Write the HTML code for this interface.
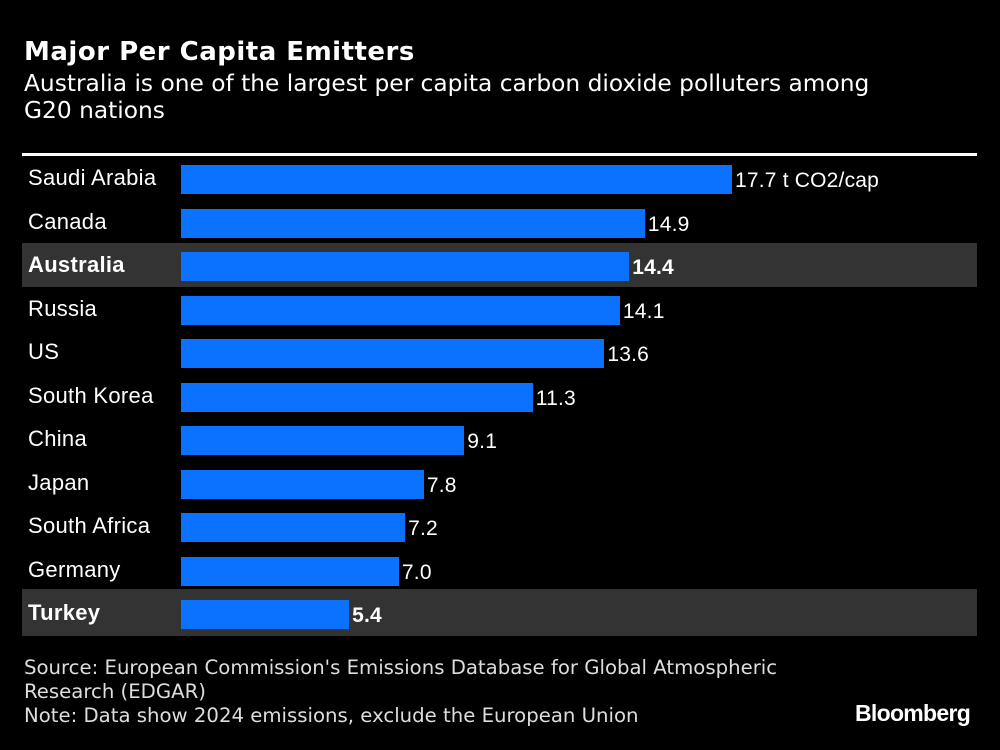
<!DOCTYPE html>
<html><head><meta charset="utf-8"><style>
body{margin:0;width:1000px;height:750px;background:#000;position:relative;overflow:hidden;color:#fff}
.t{position:absolute;font-family:"DejaVu Sans",sans-serif;white-space:nowrap}
.l{position:absolute;font-family:"Liberation Sans",sans-serif;font-size:22px;left:28px;white-space:nowrap;letter-spacing:0.3px}
.b{position:absolute;left:181px;height:29px;background:#0a72ff}
.v{position:absolute;font-family:"Liberation Sans",sans-serif;font-size:21px;white-space:nowrap;letter-spacing:0.2px}
.band{position:absolute;left:22px;width:955px;height:44px;background:#333}
</style></head><body>
<div class="t" style="left:24px;top:37px;font-size:26px;font-weight:bold;letter-spacing:0.5px">Major Per Capita Emitters</div>
<div class="t" style="left:24px;top:70px;font-size:23.3px;line-height:27px">Australia is one of the largest per capita carbon dioxide polluters among<br>G20 nations</div>
<div style="position:absolute;left:22px;top:153px;width:955px;height:3px;background:#fff"></div>
<div class="band" style="top:243px"></div>
<div class="band" style="top:589px;height:47px"></div>
<div id="c"></div>
<div class="t" style="left:24px;top:656px;font-size:19.7px;line-height:24px;color:#ddd">Source: European Commission's Emissions Database for Global Atmospheric<br>Research (EDGAR)<br>Note: Data show 2024 emissions, exclude the European Union</div>
<div class="v" style="left:855px;top:700px;font-weight:bold;font-size:23px;letter-spacing:-0.7px">Bloomberg</div>
<script>
var d=[["Saudi Arabia",17.7,0],["Canada",14.9,0],["Australia",14.4,1],["Russia",14.1,0],["US",13.6,0],["South Korea",11.3,0],["China",9.1,0],["Japan",7.8,0],["South Africa",7.2,0],["Germany",7.0,0],["Turkey",5.4,1]];
var h="";
d.forEach(function(r,i){var top=165+i*43.5;var w=r[1]*31.13;var fw=r[2]?"font-weight:bold;":"";
h+='<div class="l" style="top:'+(top+0)+'px;'+fw+'">'+r[0]+'</div>';
h+='<div class="b" style="top:'+top+'px;width:'+w+'px"></div>';
h+='<div class="v" style="top:'+(top+4)+'px;left:'+(181+w+3)+'px;'+fw+'">'+r[1].toFixed(1)+(i==0?' t CO2/cap':'')+'</div>';});
document.getElementById("c").innerHTML=h;
</script>
</body></html>
